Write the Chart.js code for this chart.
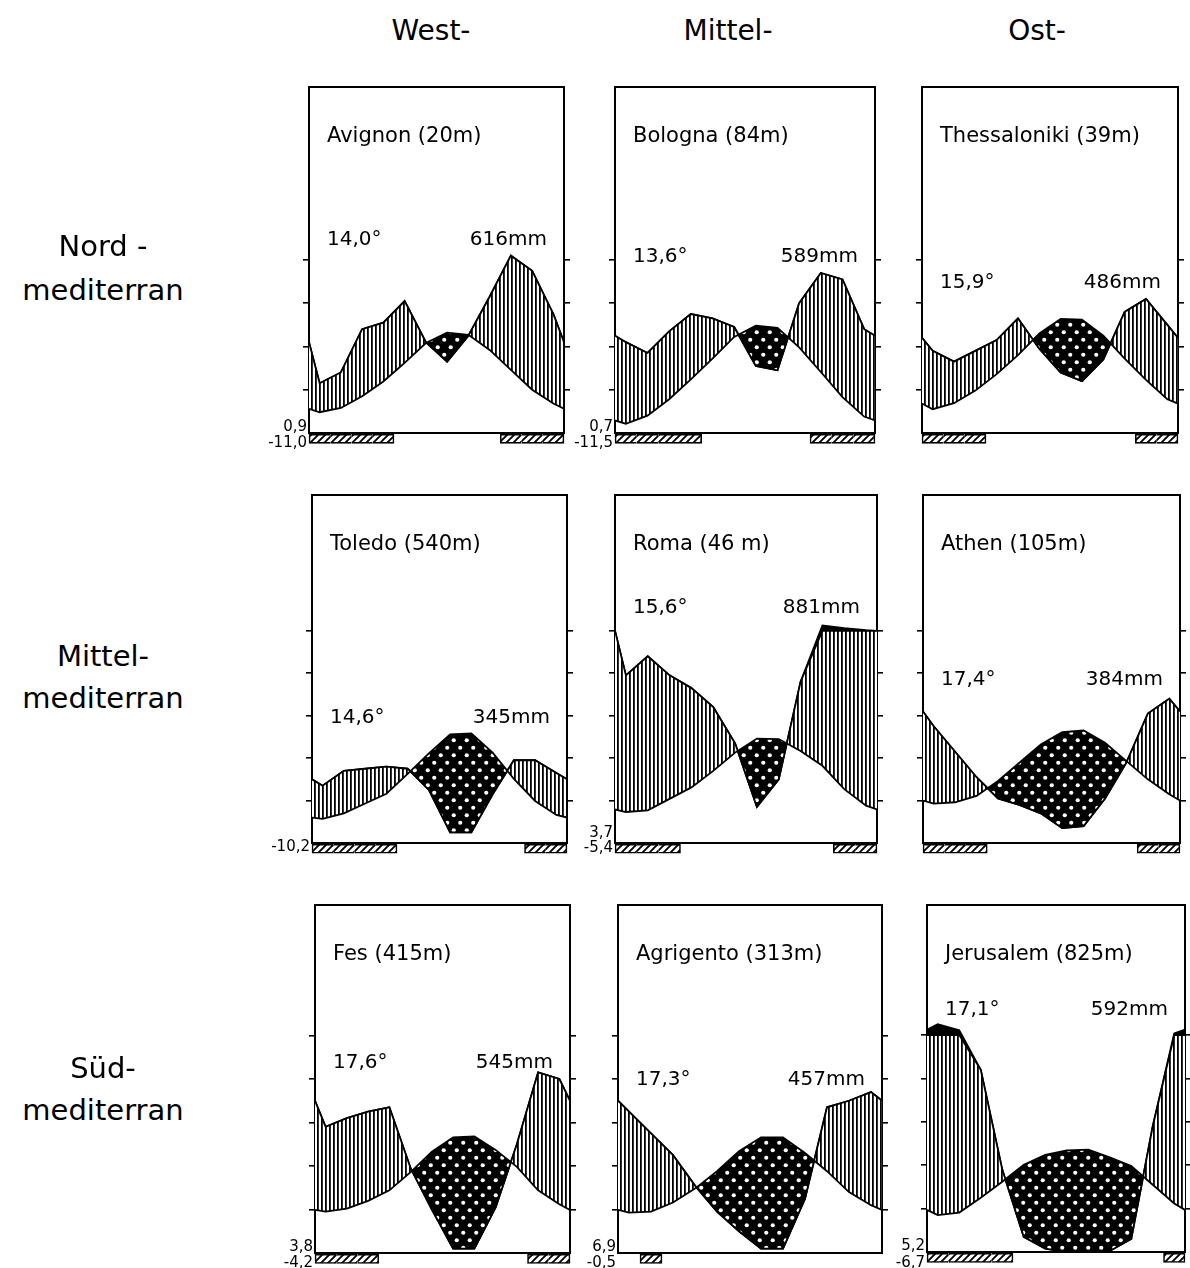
<!DOCTYPE html>
<html lang="de">
<head>
<meta charset="utf-8">
<title>Klimadiagramme des Mittelmeerraums</title>
<script src="https://cdn.jsdelivr.net/npm/chart.js@4.4.1/dist/chart.umd.min.js"></script>
<style>
  html, body { margin: 0; padding: 0; background: #fff; }
  body { position: relative; width: 1190px; height: 1268px; overflow: hidden;
         font-family: "DejaVu Sans", "Liberation Sans", sans-serif; color: #000; }
  canvas { position: absolute; }
  .lbl { position: absolute; white-space: nowrap; line-height: 1; }
</style>
</head>
<body>
<script>
// ---------- data ----------
const columnHeads = ['West-', 'Mittel-', 'Ost-'];
const rowHeads = [['Nord -', 'mediterran'], ['Mittel-', 'mediterran'], ['Süd-', 'mediterran']];

const stations = ['Avignon (20m)', 'Bologna (84m)', 'Thessaloniki (39m)',
                  'Toledo (540m)', 'Roma (46 m)', 'Athen (105m)',
                  'Fes (415m)', 'Agrigento (313m)', 'Jerusalem (825m)'];
const meanTempLabels = ['14,0°', '13,6°', '15,9°', '14,6°', '15,6°', '17,4°', '17,6°', '17,3°', '17,1°'];
const annualPrecipLabels = ['616mm', '589mm', '486mm', '345mm', '881mm', '384mm', '545mm', '457mm', '592mm'];
// mean minimum of the coldest month / absolute minimum
const minimumLabels = [['0,9', '-11,0'], ['0,7', '-11,5'], [], ['-10,2'], ['3,7', '-5,4'], [], ['3,8', '-4,2'], ['6,9', '-0,5'], ['5,2', '-6,7']];

// monthly mean temperature (°C), Jan..Dec
const tempAvignon      = [4.8, 5.8, 8.5, 11.9, 16.2, 20.8, 23.2, 22.7, 19.2, 14.6, 10.0, 6.8];
const tempBologna      = [2.1, 4.0, 7.8, 12.4, 17.2, 22.2, 24.8, 24.3, 19.8, 14.1, 8.3, 3.8];
const tempThessaloniki = [5.5, 6.9, 9.8, 13.6, 18.0, 23.0, 26.4, 26.2, 22.5, 17.2, 12.3, 7.8];
const tempToledo       = [5.7, 7.0, 9.3, 11.6, 16.3, 21.1, 25.6, 25.8, 21.3, 15.1, 9.9, 6.6];
const tempRoma         = [7.3, 7.7, 10.4, 13.1, 17.0, 21.3, 24.6, 24.5, 21.7, 18.2, 12.7, 8.8];
const tempAthen        = [9.3, 9.6, 11.1, 14.6, 18.9, 23.2, 26.1, 26.5, 23.6, 19.3, 15.0, 11.5];
const tempFes          = [9.5, 10.2, 12.0, 14.4, 18.6, 23.3, 26.6, 26.8, 23.7, 19.8, 14.4, 11.2];
const tempAgrigento    = [9.3, 9.5, 11.6, 14.8, 18.8, 23.4, 26.6, 26.6, 23.0, 18.8, 14.0, 11.0];
const tempJerusalem    = [8.5, 9.1, 12.5, 16.2, 20.1, 22.4, 23.4, 23.6, 21.8, 19.8, 15.5, 11.2];

// monthly precipitation (mm), Jan..Dec
const precipAvignon      = [23, 28, 48, 51, 61, 42, 33, 45, 63, 82, 75, 55];
const precipBologna      = [42, 37, 47, 55, 53, 49, 31, 29, 60, 74, 71, 48];
const precipThessaloniki = [38, 33, 38, 43, 53, 39, 28, 24, 34, 56, 62, 50];
const precipToledo       = [27, 34, 35, 36, 35, 25, 5, 5, 23, 39, 39, 33];
const precipRoma         = [79, 88, 79, 73, 64, 47, 17, 30, 76, 125, 112, 103];
const precipAthen        = [55, 43, 31, 21, 18, 14, 7, 8, 21, 38, 61, 68];
const precipFes          = [58, 62, 65, 67, 39, 20, 2, 2, 21, 50, 83, 80];
const precipAgrigento    = [65, 55, 45, 31, 19, 10, 2, 2, 25, 67, 70, 74];
const precipJerusalem    = [150, 122, 84, 38, 7, 1.5, 0, 0, 0.5, 6, 58, 108];

// values at the turn of the year (left and right edge of each diagram)
const yearTurnTemp   = [5.6, 2.9, 6.8, 6.0, 7.9, 10.0, 9.9, 9.9, 9.7];
const yearTurnPrecip = [42, 45, 44, 30, 100, 62, 70, 70, 125];

// months with frost (1 = Jan)
const frostAvignon      = [1, 2, 3, 4, 10, 11, 12];
const frostBologna      = [1, 2, 3, 4, 10, 11, 12];
const frostThessaloniki = [1, 2, 3, 11, 12];
const frostToledo       = [1, 2, 3, 4, 11, 12];
const frostRoma         = [1, 2, 3, 11, 12];
const frostAthen        = [1, 2, 3, 11, 12];
const frostFes          = [1, 2, 3, 11, 12];
const frostAgrigento    = [2];
const frostJerusalem    = [1, 2, 3, 4, 12];

// scale marks (°C; 10 °C = 20 mm)
const ticksFour = [10, 20, 30, 40];
const ticksFive = [10, 20, 30, 40, 50];

const tempSeries   = [tempAvignon, tempBologna, tempThessaloniki, tempToledo, tempRoma, tempAthen, tempFes, tempAgrigento, tempJerusalem];
const precipSeries = [precipAvignon, precipBologna, precipThessaloniki, precipToledo, precipRoma, precipAthen, precipFes, precipAgrigento, precipJerusalem];
const frostSeries  = [frostAvignon, frostBologna, frostThessaloniki, frostToledo, frostRoma, frostAthen, frostFes, frostAgrigento, frostJerusalem];
const tickSeries   = [ticksFour, ticksFour, ticksFour, ticksFive, ticksFive, ticksFive, ticksFive, ticksFive, ticksFive];

// ---------- layout ----------
const boxes = [                       // left, top, right, zero line
  [309, 87, 564, 433], [615, 87, 875, 433], [922, 87, 1178, 433],
  [312, 495, 567, 843], [615, 495, 877, 843], [923, 495, 1180, 843],
  [315, 905, 570, 1253], [618, 905, 882, 1253], [927, 905, 1185, 1252]
];
const yMaxByRow = [80, 82, 80];
const valueBaselines = [245, 262, 288, 723, 613, 685, 1068, 1085, 1015];
const minimumBaselines = [[432, 448], [432, 448], [], [852], [838, 853], [], [1252, 1268], [1252, 1268], [1251, 1268]];

// ---------- helpers ----------
// Walter-Lieth precipitation scale: 10 °C = 20 mm, above 100 mm reduced 1:10
function precipToScale(mm) { return mm <= 100 ? mm / 2 : 50 + (mm - 100) / 20; }

function yearSeries(turn, values) {
  const pts = [{ x: 0, y: turn }];
  values.forEach((v, i) => pts.push({ x: i + 0.5, y: v }));
  pts.push({ x: 12, y: turn });
  return pts;
}

function makePattern(w, h, draw) {
  const c = document.createElement('canvas');
  c.width = w; c.height = h;
  const g = c.getContext('2d');
  draw(g);
  return g.createPattern(c, 'repeat');
}

const humidHatch = makePattern(4, 4, g => {
  g.fillStyle = '#fff'; g.fillRect(0, 0, 4, 4);
  g.fillStyle = '#000'; g.fillRect(0, 0, 1.8, 4);
});
const aridDots = makePattern(13, 15, g => {
  g.fillStyle = '#000'; g.fillRect(0, 0, 13, 15);
  g.fillStyle = '#fff';
  [[3.25, 3.75], [9.75, 11.25]].forEach(([x, y]) => { g.beginPath(); g.arc(x, y, 2.1, 0, Math.PI * 2); g.fill(); });
});
const frostHatch = makePattern(7, 7, g => {
  g.fillStyle = '#fff'; g.fillRect(0, 0, 7, 7);
  g.strokeStyle = '#000'; g.lineWidth = 1.9;
  g.beginPath();
  g.moveTo(-1, 8); g.lineTo(8, -1);
  g.moveTo(-5, 5); g.lineTo(5, -5);
  g.moveTo(2, 12); g.lineTo(12, 2);
  g.stroke();
});

function addText(text, x, baseline, size, align) {
  const d = document.createElement('div');
  d.className = 'lbl';
  d.textContent = text;
  d.style.fontSize = size + 'px';
  d.style.top = (baseline - 0.846 * size) + 'px';
  if (align === 'right') d.style.right = (1190 - x) + 'px';
  else if (align === 'center') { d.style.left = x + 'px'; d.style.transform = 'translateX(-50%)'; }
  else d.style.left = x + 'px';
  document.body.appendChild(d);
}

// ---------- diagrams ----------
const PAD_L = 44, PAD_R = 8, PAD_T = 6, PAD_B = 22, TICK = 6;

stations.forEach((name, i) => {
  const [bl, bt, br, bb] = boxes[i];
  const yMax = yMaxByRow[Math.floor(i / 3)];
  const canvas = document.createElement('canvas');
  const w = (br - bl) + PAD_L + TICK + PAD_R + TICK;
  const h = (bb - bt) + PAD_T + PAD_B;
  canvas.width = w; canvas.height = h;
  canvas.style.left = (bl - PAD_L - TICK) + 'px';
  canvas.style.top = (bt - PAD_T) + 'px';
  document.body.appendChild(canvas);

  const precipScaled = precipSeries[i].map(precipToScale);
  const turnScaled = precipToScale(yearTurnPrecip[i]);
  const capped = precipScaled.map(v => Math.min(v, 50));
  const frost = frostSeries[i];
  const ticks = tickSeries[i];
  const setTicks = axis => { axis.ticks = ticks.map(v => ({ value: v })); };
  const edge = { display: true, color: '#000', width: 2 };
  const curve = { borderColor: '#000', borderWidth: 1.8, pointRadius: 0, tension: 0 };

  new Chart(canvas, {
    type: 'line',
    data: {
      datasets: [
        { label: 'Temperatur', data: yearSeries(yearTurnTemp[i], tempSeries[i]), ...curve, fill: false },
        { label: 'Niederschlag', data: yearSeries(Math.min(turnScaled, 50), capped), ...curve,
          fill: { target: 0, above: humidHatch, below: aridDots } },
        { label: 'Niederschlag > 100 mm', data: yearSeries(turnScaled, precipScaled), ...curve,
          fill: { target: 1, above: '#000', below: 'rgba(0,0,0,0)' } },
        { type: 'bar', label: 'Frost', data: frost.map(m => ({ x: m - 0.5, y: [-2.4, -0.3] })),
          backgroundColor: frostHatch, borderColor: '#000', borderSkipped: false, clip: false,
          categoryPercentage: 1, barPercentage: 1,
          borderWidth: ctx => {
            if (ctx.dataIndex === undefined) return 1.6;
            const m = frost[ctx.dataIndex];
            return { top: 1.6, bottom: 1.6,
                     left: frost.includes(m - 1) ? 0 : 1.6,
                     right: frost.includes(m + 1) ? 0 : 1.6 };
          } }
      ]
    },
    options: {
      responsive: false, animation: false, events: [],
      layout: { padding: { left: PAD_L, right: PAD_R, top: PAD_T, bottom: PAD_B } },
      plugins: { legend: { display: false }, tooltip: { enabled: false } },
      scales: {
        x: { type: 'linear', min: 0, max: 12, offset: false,
             ticks: { display: false, stepSize: 1 }, grid: { display: false, drawTicks: false }, border: edge },
        xTop: { type: 'linear', position: 'top', min: 0, max: 12, offset: false,
                ticks: { display: false, stepSize: 1 }, grid: { display: false, drawTicks: false }, border: edge },
        y: { type: 'linear', position: 'left', min: 0, max: yMax, afterBuildTicks: setTicks,
             ticks: { display: false },
             grid: { display: true, drawOnChartArea: false, drawTicks: true, tickLength: TICK, color: '#000', lineWidth: 1.6 },
             border: edge },
        yR: { type: 'linear', position: 'right', min: 0, max: yMax, afterBuildTicks: setTicks,
              ticks: { display: false },
              grid: { display: true, drawOnChartArea: false, drawTicks: true, tickLength: TICK, color: '#000', lineWidth: 1.6 },
              border: edge }
      }
    }
  });

  // station texts
  addText(name, bl + 18, bt + 56, 21, 'left');
  addText(meanTempLabels[i], bl + 18, valueBaselines[i], 20, 'left');
  addText(annualPrecipLabels[i], br - 17, valueBaselines[i], 20, 'right');
  minimumLabels[i].forEach((t, k) => addText(t, bl - 2, minimumBaselines[i][k], 15, 'right'));
});

// headings
const headCenters = [431, 728, 1037];
columnHeads.forEach((t, c) => addText(t, headCenters[c], 41, 28, 'center'));
const rowBaselines = [[257, 301], [667, 709], [1079, 1121]];
rowHeads.forEach((lines, r) => lines.forEach((t, k) => addText(t, 103, rowBaselines[r][k], 29, 'center')));
</script>
</body>
</html>
